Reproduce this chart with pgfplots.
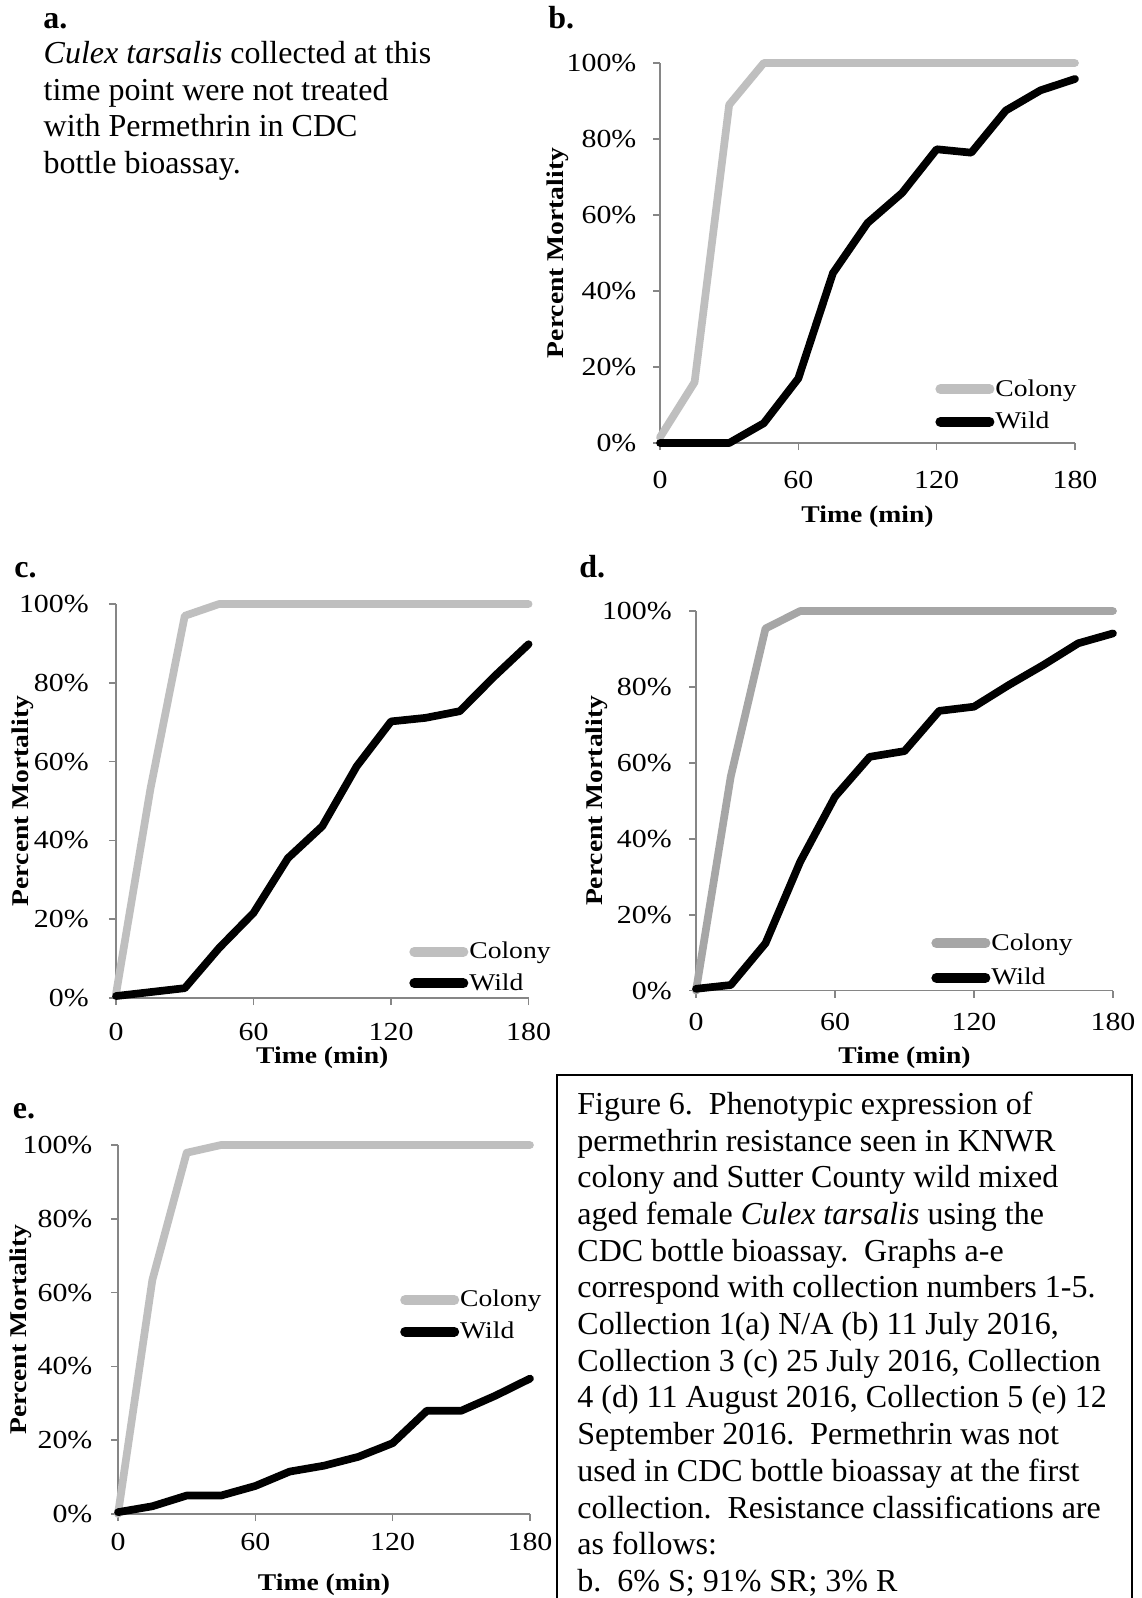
\documentclass[border=0pt]{standalone}
\usepackage{fontspec}
\setmainfont{Liberation Serif}
\newfontfamily\chartfont[FakeStretch=1.15]{Liberation Serif}
\usepackage{pgfplots}
\usepackage{pgfplotstable}
\pgfplotsset{compat=1.18}
\definecolor{colonyL}{RGB}{191,191,191}
\definecolor{colonyD}{RGB}{166,166,166}
\definecolor{axgray}{RGB}{134,134,134}

\pgfplotstableread{
t colony wild
0 1.5 0
15 16 0
30 89 0
45 100 5.2
60 100 17
75 100 44.7
90 100 57.9
105 100 65.8
120 100 77.3
135 100 76.4
150 100 87.5
165 100 92.8
180 100 95.8
}\datab
\pgfplotstableread{
t colony wild
0 1 0.5
15 53 1.5
30 97 2.5
45 100 12.7
60 100 21.6
75 100 35.5
90 100 43.6
105 100 58.8
120 100 70.2
135 100 71.1
150 100 72.8
165 100 81.6
180 100 89.8
}\datac
\pgfplotstableread{
t colony wild
0 0 0.5
15 56.4 1.5
30 95.4 12.5
45 100 34
60 100 51.1
75 100 61.6
90 100 63.1
105 100 73.7
120 100 74.8
135 100 80.5
150 100 85.8
165 100 91.5
180 100 94.1
}\datad
\pgfplotstableread{
t colony wild
0 0 0.5
15 63.4 2.1
30 97.9 5
45 100 5
60 100 7.6
75 100 11.5
90 100 13.1
105 100 15.5
120 100 19.2
135 100 28
150 100 28
165 100 32.1
180 100 36.7
}\datae

\newcommand\labfont{\chartfont\fontsize{12bp}{14bp}\selectfont\bfseries}

\pgfplotsset{
  panel/.style={
    scale only axis,
    axis lines*=left,
    xmin=0, xmax=180, ymin=0, ymax=100,
    xtick={0,60,120,180},
    xticklabels={0,60,120,180},
    ytick={0,20,40,60,80,100},
    yticklabels={0\%,20\%,40\%,60\%,80\%,100\%},
    tick align=outside,
    major tick length=3.5bp,
    every tick/.style={color=axgray, line width=0.75bp},
    axis line style={color=axgray, line width=0.75bp},
    tick label style={font=\chartfont\fontsize{13bp}{15bp}\selectfont},
    clip=false,
    xlabel={Time (min)},
    ylabel={Percent Mortality},
    legend cell align=left,
    legend style={draw=none, fill=none, inner sep=0pt, anchor=west,
      nodes={inner sep=0.5bp, font=\chartfont\fontsize{12bp}{14bp}\selectfont}},
    legend image code/.code={\draw[##1, line width=5bp, line cap=round] (2.5bp,0bp) -- (27bp,0bp);},
  },
  colonyplot/.style={line width=3.85bp, line join=round, line cap=round},
  wildplot/.style={black, line width=3.85bp, line join=round, line cap=round},
}

\newcommand\capfont{\fontsize{16bp}{18.35bp}\selectfont}
\newcommand\capline[2]{\node[anchor=base west, inner sep=0, font=\capfont] at (288.5bp,{-557.15bp-18.35bp*#1}) {#2};}

\begin{document}
\begin{tikzpicture}
\useasboundingbox (0,0) rectangle (571bp,-799bp);
\fill[white] (0,0) rectangle (571bp,-799bp);

% panel letters
\node[anchor=base west, inner sep=0, font=\capfont\bfseries] at (21.5bp,-14bp) {a.};
\node[anchor=base west, inner sep=0, font=\capfont\bfseries] at (274bp,-14bp) {b.};
\node[anchor=base west, inner sep=0, font=\capfont\bfseries] at (7bp,-288.5bp) {c.};
\node[anchor=base west, inner sep=0, font=\capfont\bfseries] at (289.5bp,-288.5bp) {d.};
\node[anchor=base west, inner sep=0, font=\capfont\bfseries] at (6.25bp,-559bp) {e.};

% panel a text
\node[anchor=base west, inner sep=0, font=\capfont] at (21.65bp,-31.65bp) {\textit{Culex tarsalis} collected at this};
\node[anchor=base west, inner sep=0, font=\capfont] at (21.65bp,-50bp) {time point were not treated};
\node[anchor=base west, inner sep=0, font=\capfont] at (21.65bp,-68.35bp) {with Permethrin in CDC};
\node[anchor=base west, inner sep=0, font=\capfont] at (21.65bp,-86.65bp) {bottle bioassay.};

% panel b
\begin{axis}[panel, at={(330bp,-221.5bp)}, anchor=south west,
  width=207.5bp, height=190bp,
  xticklabel style={yshift=-7.2bp}, yticklabel style={xshift=-4.8bp},
  every axis x label/.style={at={([yshift=-37bp]axis description cs:0.5,0)}, anchor=center, font=\labfont},
  every axis y label/.style={at={([xshift=-51bp]axis description cs:0,0.5)}, anchor=center, rotate=90, font=\labfont},
  legend style={at={(0.6627,0.0987)}, anchor=west, row sep=5.5bp}]
\addplot[colonyplot, color=colonyL] table[x=t, y=colony] {\datab};
\addplot[wildplot] table[x=t, y=wild] {\datab};
\legend{Colony,Wild}
\end{axis}

% panel c
\begin{axis}[panel, at={(58bp,-499bp)}, anchor=south west,
  width=206.3bp, height=197bp,
  xticklabel style={yshift=-5.4bp}, yticklabel style={xshift=-6.6bp},
  every axis x label/.style={at={([yshift=-30bp]axis description cs:0.5,0)}, anchor=center, font=\labfont},
  every axis y label/.style={at={([xshift=-46.5bp]axis description cs:0,0.5)}, anchor=center, rotate=90, font=\labfont},
  legend style={at={(0.710,0.0774)}, anchor=west, row sep=5bp}]
\addplot[colonyplot, color=colonyL] table[x=t, y=colony] {\datac};
\addplot[wildplot] table[x=t, y=wild] {\datac};
\legend{Colony,Wild}
\end{axis}

% panel d
\begin{axis}[panel, at={(348bp,-495.35bp)}, anchor=south west,
  width=208.5bp, height=189.85bp,
  xticklabel style={yshift=-4.2bp}, yticklabel style={xshift=-5.1bp},
  every axis x label/.style={at={([yshift=-33.7bp]axis description cs:0.5,0)}, anchor=center, font=\labfont},
  every axis y label/.style={at={([xshift=-49.5bp]axis description cs:0,0.5)}, anchor=center, rotate=90, font=\labfont},
  legend style={at={(0.5635,0.0795)}, anchor=west, row sep=6.5bp}]
\addplot[colonyplot, color=colonyD] table[x=t, y=colony] {\datad};
\addplot[wildplot] table[x=t, y=wild] {\datad};
\legend{Colony,Wild}
\end{axis}

% panel e
\begin{axis}[panel, at={(59bp,-757bp)}, anchor=south west,
  width=206bp, height=184.5bp,
  xticklabel style={yshift=-2.5bp}, yticklabel style={xshift=-5.8bp},
  every axis x label/.style={at={([yshift=-35.5bp]axis description cs:0.5,0)}, anchor=center, font=\labfont},
  every axis y label/.style={at={([xshift=-48.5bp]axis description cs:0,0.5)}, anchor=center, rotate=90, font=\labfont},
  legend style={at={(0.684,0.537)}, anchor=west, row sep=5bp}]
\addplot[colonyplot, color=colonyL] table[x=t, y=colony] {\datae};
\addplot[wildplot] table[x=t, y=wild] {\datae};
\legend{Colony,Wild}
\end{axis}

% caption box
\draw[line width=0.9bp] (278.5bp,-799bp) -- (278.5bp,-537.5bp) -- (566bp,-537.5bp) -- (566bp,-799bp);
\capline{0}{Figure 6.\ \ Phenotypic expression of}
\capline{1}{permethrin resistance seen in KNWR}
\capline{2}{colony and Sutter County wild mixed}
\capline{3}{aged female \textit{Culex tarsalis} using the}
\capline{4}{CDC bottle bioassay.\ \ Graphs a-e}
\capline{5}{correspond with collection numbers 1-5.}
\capline{6}{Collection 1(a) N/A (b) 11 July 2016,}
\capline{7}{Collection 3 (c) 25 July 2016, Collection}
\capline{8}{4 (d) 11 August 2016, Collection 5 (e) 12}
\capline{9}{September 2016.\ \ Permethrin was not}
\capline{10}{used in CDC bottle bioassay at the first}
\capline{11}{collection.\ \ Resistance classifications are}
\capline{12}{as follows:}
\capline{13}{b.\ \ 6\% S; 91\% SR; 3\% R}
\end{tikzpicture}
\end{document}
